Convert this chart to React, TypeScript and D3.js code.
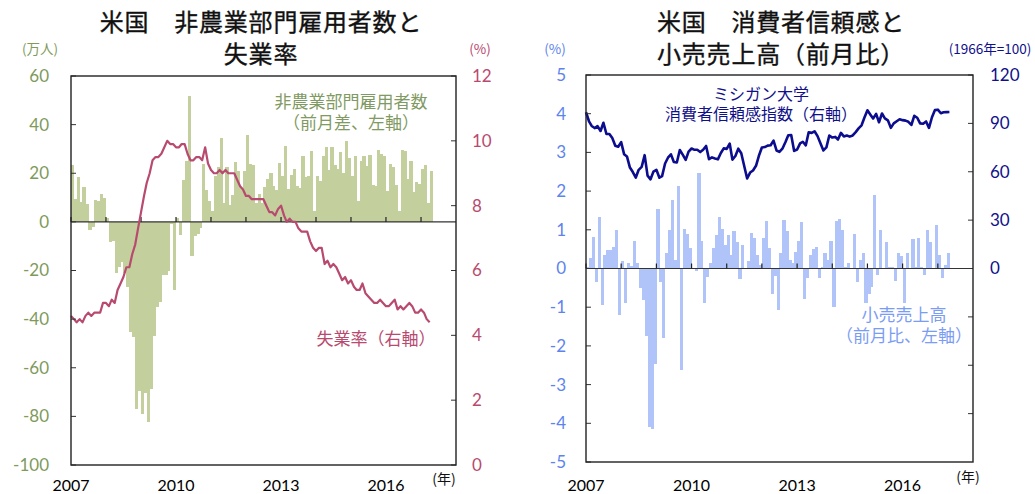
import { useRef, useEffect } from "react";
import * as d3 from "d3";

// monthly data, Jan 2007 onwards
const startYear = 2007;

// 非農業部門雇用者数 前月差 (万人), 2007/1 - 2017/4
const payrolls = [
  23.4, 9.3, 18.6, 8.0, 14.3, 7.5, -3.4, -2.0, 8.8, 8.4, 11.4, 9.8,
  1.7, -8.4, -7.8, -21.0, -18.5, -16.5, -20.9, -26.6, -45.2, -47.3, -76.9, -69.5,
  -79.1, -70.3, -82.3, -68.6, -47.0, -35.0, -33.0, -22.0, -21.9, -20.0, -0.7, -27.9,
  1.4, -5.2, 17.2, 25.1, 51.6, -14.0, -5.8, -5.1, -2.7, 24.0, 13.0, 8.7,
  4.3, 18.9, 22.5, 34.6, 7.7, 22.5, 6.9, 11.0, 24.8, 20.9, 14.1, 20.9,
  35.8, 23.7, 23.3, 7.8, 11.5, 7.6, 14.3, 17.7, 20.3, 14.6, 13.2, 24.4,
  19.0, 31.1, 13.5, 19.2, 21.8, 14.6, 14.0, 26.9, 18.5, 18.9, 29.1, 4.5,
  18.7, 16.8, 27.2, 31.0, 21.3, 30.6, 23.2, 21.8, 28.6, 20.0, 33.1, 26.1,
  19.0, 27.2, 8.4, 25.1, 27.3, 22.8, 27.7, 15.0, 14.9, 29.5, 28.0, 27.1,
  12.6, 23.7, 22.5, 15.3, 4.3, 29.7, 29.1, 17.6, 24.9, 12.4, 16.4, 15.5,
  21.6, 23.2, 7.9, 21.1,
];

// 失業率 (%)
const unemployment = [
  4.6, 4.5, 4.4, 4.5, 4.4, 4.6, 4.7, 4.6, 4.7, 4.7, 4.7, 5.0,
  5.0, 4.9, 5.1, 5.0, 5.4, 5.6, 5.8, 6.1, 6.1, 6.5, 6.8, 7.3,
  7.8, 8.3, 8.7, 9.0, 9.4, 9.5, 9.5, 9.6, 9.8, 10.0, 9.9, 9.9,
  9.8, 9.8, 9.9, 9.9, 9.6, 9.4, 9.4, 9.5, 9.5, 9.4, 9.8, 9.3,
  9.1, 9.0, 9.0, 9.1, 9.0, 9.1, 9.0, 9.0, 9.0, 8.8, 8.6, 8.5,
  8.3, 8.3, 8.2, 8.2, 8.2, 8.2, 8.2, 8.0, 7.8, 7.8, 7.7, 7.9,
  8.0, 7.7, 7.5, 7.6, 7.5, 7.5, 7.3, 7.2, 7.2, 7.2, 6.9, 6.7,
  6.6, 6.7, 6.7, 6.2, 6.3, 6.1, 6.2, 6.1, 5.9, 5.7, 5.8, 5.6,
  5.7, 5.5, 5.4, 5.4, 5.6, 5.3, 5.2, 5.1, 5.0, 5.0, 5.1, 5.0,
  4.9, 4.9, 5.0, 5.1, 4.8, 4.9, 4.8, 4.9, 5.0, 4.9, 4.7, 4.7,
  4.8, 4.7, 4.5, 4.4,
];

// 小売売上高 前月比 (%)
const retailSales = [
  0.05, 0.28, 0.82, -0.34, 1.34, -0.95, 0.36, 0.47, 0.49, 0.56, 0.99, -1.19,
  0.19, -0.9, 0.15, 0.06, 0.7, 0.13, -0.5, -0.82, -1.75, -4.1, -4.14, -2.47,
  1.55, -0.34, -1.8, 0.39, 0.99, 1.77, 0.22, 2.14, -2.63, 1.03, 0.89, 0.54,
  0.02, -0.06, 2.46, 0.72, -0.9, -0.22, 0.13, 0.52, 0.86, 1.34, 1.03, 0.62,
  0.86, 0.34, 0.97, 0.69, -0.26, 0.62, 0.02, 0.19, 0.93, 0.78, 0.34, 0.1,
  0.8, 1.23, 0.52, -0.65, -0.2, -1.08, 0.39, 1.25, 0.97, 0.22, 0.14, 0.43,
  0.71, 1.21, -0.8, -0.24, 0.34, 0.5, 0.56, -0.24, 0.05, 0.39, 0.22, 0.71,
  -0.99, 1.22, 1.28, 0.99, 0.04, 0.13, 0.02, 0.9, -0.34, 0.22, 0.41, -0.9,
  -0.65, -0.47, 1.91, -0.16, 0.99, 0.02, 0.69, 0.05, 0.03, -0.33, 0.39, 0.33,
  -0.9, 0.41, 0.02, 0.76, 0.03, 0.79, 0.03, -0.17, 1.0, 0.69, 0.02, 1.12,
  0.34, -0.24, 0.09, 0.39,
];

// ミシガン大学消費者信頼感指数 (1966年=100), 2007/1 - 2017/5
const sentiment = [
  96.9, 91.3, 88.4, 87.1, 88.3, 85.3, 90.4, 83.4, 83.4, 80.9, 76.1, 75.5,
  78.4, 70.8, 69.5, 62.6, 59.8, 56.4, 61.2, 63.0, 70.3, 57.6, 55.3, 60.1,
  61.2, 56.3, 57.3, 65.1, 68.7, 70.8, 66.0, 65.7, 73.5, 70.6, 67.4, 72.5,
  74.4, 73.6, 73.6, 72.2, 73.6, 76.0, 67.8, 68.9, 68.2, 67.7, 71.6, 74.5,
  74.2, 77.5, 67.5, 69.8, 74.3, 71.5, 63.7, 55.8, 59.5, 60.8, 63.7, 69.9,
  75.0, 75.3, 76.2, 76.4, 79.3, 73.2, 72.3, 74.3, 78.3, 82.6, 82.7, 72.9,
  73.8, 77.6, 78.6, 76.4, 84.5, 84.1, 85.1, 82.1, 77.5, 73.2, 75.1, 82.5,
  81.2, 81.6, 80.0, 84.1, 81.9, 82.5, 81.8, 82.5, 84.6, 86.9, 88.8, 93.6,
  98.1, 95.4, 93.0, 95.9, 90.7, 96.1, 93.1, 91.9, 87.2, 90.0, 91.3, 92.6,
  92.0, 91.7, 91.0, 89.0, 94.7, 93.5, 90.0, 89.8, 91.2, 87.2, 93.8, 98.2,
  98.5, 96.3, 96.9, 97.0, 97.1,
];

const yearLabels = [2007, 2010, 2013, 2016];
const yearTicks = d3.range(2007, 2018);

const payrollTicks = d3.range(-100, 61, 20);
const unempTicks = d3.range(0, 13, 2);
const retailTicks = d3.range(-5, 6, 1);
const sentimentTicks = d3.range(-90, 121, 30);
const sentimentLabels = [0, 30, 60, 90, 120];

const monthDate = (i: number) => new Date(startYear, i, 1);

const JP = "'Noto Sans CJK JP', 'Noto Sans', sans-serif";
const NUM = "Lato, 'Noto Sans', sans-serif";

function App() {
  const svgRef = useRef<SVGSVGElement>(null);

  useEffect(() => {
    const svg = d3.select(svgRef.current);
    svg.selectAll("*").remove();

    const drawPanel = (cfg: any) => {
      const { x0, x1, y0, y1 } = cfg;
      const g = svg.append("g");

      const x = d3
        .scaleTime()
        .domain([new Date(2007, 0, 1), new Date(2018, 0, 1)])
        .range([x0, x1]);
      const yL = d3.scaleLinear().domain(cfg.leftDomain).range([y1, y0]);
      const yR = d3.scaleLinear().domain(cfg.rightDomain).range([y1, y0]);

      // bars, touching each other
      g.selectAll("rect.bar")
        .data(cfg.bars)
        .enter()
        .append("rect")
        .attr("x", (_d: number, i: number) => x(monthDate(i)))
        .attr("width", (_d: number, i: number) => x(monthDate(i + 1)) - x(monthDate(i)) + 0.3)
        .attr("y", (d: number) => Math.min(yL(d), yL(0)))
        .attr("height", (d: number) => Math.abs(yL(d) - yL(0)))
        .attr("fill", cfg.barColor)
        .attr("shape-rendering", "crispEdges");

      // zero line
      g.append("line")
        .attr("x1", x0)
        .attr("x2", x1)
        .attr("y1", yL(0))
        .attr("y2", yL(0))
        .attr("stroke", "#333")
        .attr("stroke-width", 1.2);

      // year ticks on the zero line (pointing up)
      g.selectAll("line.xt")
        .data(yearTicks)
        .enter()
        .append("line")
        .attr("x1", (d: number) => x(new Date(d, 0, 1)))
        .attr("x2", (d: number) => x(new Date(d, 0, 1)))
        .attr("y1", yL(0))
        .attr("y2", yL(0) - 5)
        .attr("stroke", "#222")
        .attr("stroke-width", 1.2);

      // line series
      const line = d3
        .line<number>()
        .x((_d, i) => x(monthDate(i)))
        .y((d) => yR(d));
      g.append("path")
        .datum(cfg.line)
        .attr("d", line)
        .attr("fill", "none")
        .attr("stroke", cfg.lineColor)
        .attr("stroke-width", cfg.lineWidth)
        .attr("stroke-linejoin", "round");

      // inward ticks
      g.selectAll("line.lt")
        .data(cfg.leftTicks)
        .enter()
        .append("line")
        .attr("x1", x0)
        .attr("x2", x0 + 5)
        .attr("y1", (d: number) => yL(d))
        .attr("y2", (d: number) => yL(d))
        .attr("stroke", "#333");
      g.selectAll("line.rt")
        .data(cfg.rightTicks)
        .enter()
        .append("line")
        .attr("x1", x1 - 5)
        .attr("x2", x1)
        .attr("y1", (d: number) => yR(d))
        .attr("y2", (d: number) => yR(d))
        .attr("stroke", "#333");

      // frame
      g.append("rect")
        .attr("x", x0)
        .attr("y", y0)
        .attr("width", x1 - x0)
        .attr("height", y1 - y0)
        .attr("fill", "none")
        .attr("stroke", "#222")
        .attr("stroke-width", 1.4);

      // left axis labels
      g.selectAll("text.ll")
        .data(cfg.leftTicks)
        .enter()
        .append("text")
        .attr("x", cfg.leftLabelX)
        .attr("y", (d: number) => yL(d))
        .attr("dy", "0.35em")
        .attr("text-anchor", "end")
        .attr("font-family", NUM)
        .attr("font-size", 17)
        .attr("fill", cfg.leftColor)
        .text((d: number) => d);

      // right axis labels
      g.selectAll("text.rl")
        .data(cfg.rightLabels)
        .enter()
        .append("text")
        .attr("x", cfg.rightLabelX)
        .attr("y", (d: number) => yR(d))
        .attr("dy", "0.35em")
        .attr("text-anchor", "start")
        .attr("font-family", NUM)
        .attr("font-size", 17)
        .attr("fill", cfg.rightColor)
        .text((d: number) => d);

      // year labels
      g.selectAll("text.yl")
        .data(yearLabels)
        .enter()
        .append("text")
        .attr("x", (d: number) => x(new Date(d, 0, 1)))
        .attr("y", 491)
        .attr("text-anchor", "middle")
        .attr("font-family", NUM)
        .attr("font-size", 16)
        .attr("fill", "#000")
        .text((d: number) => d);

      // title
      cfg.title.forEach((t: string, i: number) => {
        g.append("text")
          .attr("x", cfg.titleX)
          .attr("y", 31 + i * 32)
          .attr("text-anchor", "middle")
          .attr("font-family", JP)
          .attr("font-size", 24)
          .attr("letter-spacing", 0.8)
          .attr("fill", "#111")
          .attr("stroke", "#111")
          .attr("stroke-width", 0.35)
          .text(t);
      });

      // units
      g.append("text")
        .attr("x", cfg.leftUnitX)
        .attr("y", 54)
        .attr("text-anchor", "middle")
        .attr("font-family", JP)
        .attr("font-size", 13.5)
        .attr("fill", cfg.leftColor)
        .text(cfg.leftUnit);
      g.append("text")
        .attr("x", cfg.rightUnitX)
        .attr("y", 54)
        .attr("text-anchor", "middle")
        .attr("font-family", JP)
        .attr("font-size", 13.5)
        .attr("fill", cfg.rightColor)
        .text(cfg.rightUnit);

      g.append("text")
        .attr("x", cfg.yearUnitX)
        .attr("y", cfg.yearUnitY)
        .attr("text-anchor", "middle")
        .attr("font-family", JP)
        .attr("font-size", 14)
        .attr("fill", "#111")
        .text("(年)");

      // series notes
      cfg.notes.forEach((n: any) => {
        n.lines.forEach((t: string, i: number) => {
          g.append("text")
            .attr("x", n.x)
            .attr("y", n.y + i * n.gap)
            .attr("text-anchor", "middle")
            .attr("font-family", JP)
            .attr("font-size", n.size)
            .attr("fill", n.color)
            .text(t);
        });
      });
    };

    drawPanel({
      x0: 71,
      x1: 456,
      y0: 76,
      y1: 465,
      leftDomain: [-100, 60],
      rightDomain: [0, 12],
      bars: payrolls,
      barColor: "#c3cf9c",
      line: unemployment,
      lineColor: "#b84a70",
      lineWidth: 2.2,
      leftTicks: payrollTicks,
      rightTicks: unempTicks,
      rightLabels: unempTicks,
      leftColor: "#7f9a5c",
      rightColor: "#b84a70",
      leftLabelX: 49,
      rightLabelX: 472,
      title: ["米国　非農業部門雇用者数と", "失業率"],
      titleX: 261,
      leftUnit: "(万人)",
      leftUnitX: 40,
      rightUnit: "(%)",
      rightUnitX: 480,
      yearUnitX: 444,
      yearUnitY: 484,
      notes: [
        { lines: ["非農業部門雇用者数", "（前月差、左軸）"], x: 351, y: 108, gap: 21, size: 17, color: "#7f9a62" },
        { lines: ["失業率（右軸）"], x: 376, y: 345, gap: 0, size: 17, color: "#b84a70" },
      ],
    });

    drawPanel({
      x0: 586,
      x1: 973,
      y0: 75,
      y1: 462,
      leftDomain: [-5, 5],
      rightDomain: [-120, 120],
      bars: retailSales,
      barColor: "#b1c4fa",
      line: sentiment,
      lineColor: "#0c0c8e",
      lineWidth: 2.6,
      leftTicks: retailTicks,
      rightTicks: sentimentTicks,
      rightLabels: sentimentLabels,
      leftColor: "#5d84ee",
      rightColor: "#10108a",
      leftLabelX: 566,
      rightLabelX: 990,
      title: ["米国　消費者信頼感と", "小売売上高（前月比）"],
      titleX: 781,
      leftUnit: "(%)",
      leftUnitX: 555,
      rightUnit: "(1966年=100)",
      rightUnitX: 990,
      yearUnitX: 968,
      yearUnitY: 482,
      notes: [
        { lines: ["ミシガン大学", "消費者信頼感指数（右軸）"], x: 761, y: 100, gap: 20, size: 16, color: "#10108a" },
        { lines: ["小売売上高", "（前月比、左軸）"], x: 904, y: 321, gap: 21, size: 17, color: "#7b9cf4" },
      ],
    });
  }, []);

  return (
    <svg
      ref={svgRef}
      width={1035}
      height={494}
      style={{ position: "absolute", left: 0, top: 0, background: "#fff" }}
    ></svg>
  );
}

export default App;
